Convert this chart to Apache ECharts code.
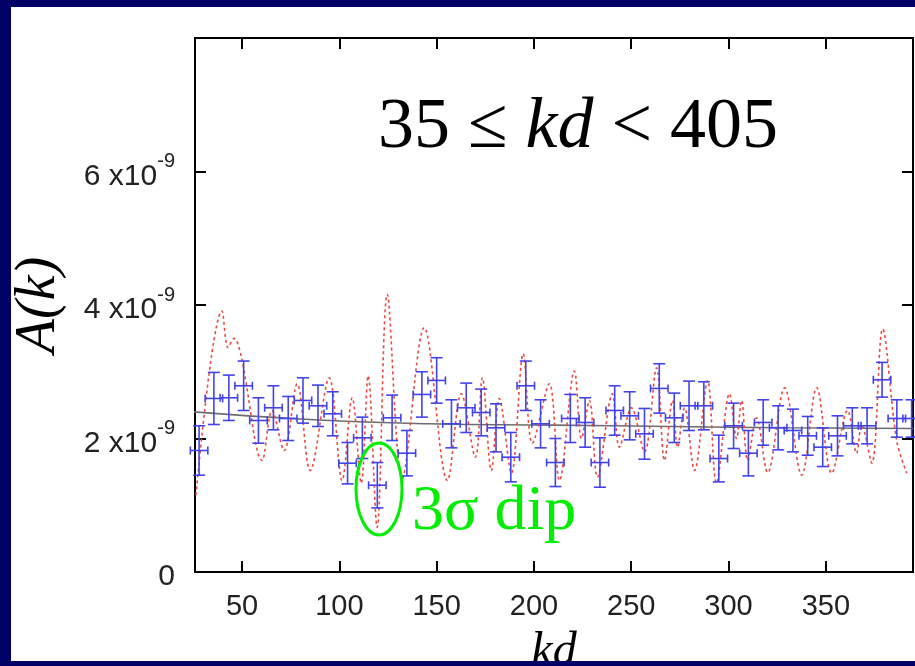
<!DOCTYPE html>
<html>
<head>
<meta charset="utf-8">
<script src="https://cdn.jsdelivr.net/npm/echarts@6/dist/echarts.min.js"></script>
<style>
  html, body { margin: 0; padding: 0; background: #000066; }
  #chart { width: 915px; height: 666px; }
</style>
</head>
<body>
<div id="chart"></div>
<script>
// binned points (A in units of 1e-9)
var kdBins = [27.9, 35.5, 43.2, 50.8, 58.4, 66.1, 73.7, 81.3, 89.0, 96.6,
  104.2, 111.8, 119.5, 127.1, 134.7, 142.4, 150.0, 157.6, 165.2, 172.9,
  180.5, 188.1, 195.8, 203.4, 211.0, 218.7, 226.3, 233.9, 241.5, 249.2,
  256.8, 264.4, 272.1, 279.7, 287.3, 295.0, 302.6, 310.2, 317.8, 325.5,
  333.1, 340.7, 348.4, 356.0, 363.6, 371.2, 378.9, 386.5, 394.1];
var ampBins = [1.82, 2.60, 2.61, 2.79, 2.27, 2.46, 2.30, 2.57, 2.49, 2.37,
  1.63, 2.01, 1.30, 2.31, 1.78, 2.66, 2.87, 2.22, 2.46, 2.39,
  2.16, 1.72, 2.79, 2.22, 1.64, 2.30, 2.24, 1.64, 2.42, 2.34,
  2.07, 2.75, 2.31, 2.49, 2.49, 1.70, 2.19, 1.78, 2.24, 2.16,
  2.12, 2.04, 1.87, 2.04, 2.19, 2.19, 2.88, 2.30, 2.30];
var ampErr = [0.37, 0.39, 0.34, 0.37, 0.34, 0.33, 0.33, 0.34, 0.31, 0.33,
  0.31, 0.31, 0.34, 0.34, 0.34, 0.34, 0.34, 0.36, 0.37, 0.35,
  0.36, 0.37, 0.37, 0.36, 0.36, 0.36, 0.37, 0.37, 0.37, 0.36,
  0.38, 0.37, 0.37, 0.37, 0.36, 0.35, 0.34, 0.34, 0.34, 0.33,
  0.32, 0.29, 0.29, 0.30, 0.27, 0.27, 0.26, 0.28, 0.28];
var kdHalfWidth = 4.5;

// unbinned (red dotted) curve
var kdFine = [26.3, 39.7, 42.8, 45.9, 49.5, 60.3, 65.4, 71.6, 78.3, 85.0,
  94.8, 101.4, 106.6, 111.2, 114.8, 119.4, 124.6, 132.3, 143.6, 155.5,
  162.7, 169.9, 173.5, 178.1, 182.2, 188.4, 194.5, 199.2, 207.9, 213.1,
  220.8, 224.4, 228.5, 232.6, 240.3, 243.9, 250.1, 256.8, 263.0, 267.1,
  271.2, 273.8, 277.4, 282.5, 289.2, 293.8, 300.5, 304.1, 306.7, 309.8,
  314.4, 320.1, 328.8, 337.6, 345.3, 353.0, 361.2, 365.8, 368.4, 373.6,
  379.2, 386.4, 391.6];
var ampFine = [1.15, 3.91, 3.36, 3.50, 3.24, 1.67, 2.42, 1.82, 2.82, 1.52,
  2.91, 1.37, 2.61, 1.33, 2.94, 0.67, 4.16, 1.40, 3.66, 1.37,
  2.67, 1.72, 2.91, 1.52, 2.60, 1.48, 3.27, 1.93, 2.82, 1.37,
  3.01, 2.00, 2.57, 1.42, 2.67, 1.87, 2.46, 1.80, 3.06, 1.67,
  2.57, 1.87, 2.46, 1.52, 2.87, 1.33, 2.67, 2.00, 2.57, 1.67,
  2.31, 1.49, 2.76, 1.45, 2.76, 1.48, 2.42, 1.78, 2.20, 1.63,
  3.64, 1.97, 1.48];

// fit curve
var kdFit = [25, 87, 146, 210, 270, 331, 395];
var ampFit = [2.40, 2.28, 2.22, 2.20, 2.18, 2.16, 2.15];

var xTicks = [50, 100, 150, 200, 250, 300, 350];

var dom = document.getElementById('chart');
var myChart = echarts.init(dom, null, { renderer: 'canvas' });

var barData = [];
for (var i = 0; i < kdBins.length; i++) {
  barData.push([kdBins[i], ampBins[i], kdHalfWidth, ampErr[i]]);
}
var fineData = kdFine.map(function (k, i) { return [k, ampFine[i]]; });
var fitData = kdFit.map(function (k, i) { return [k, ampFit[i]]; });

function renderBar(params, api) {
  var x = api.value(0), y = api.value(1), ex = api.value(2), ey = api.value(3);
  var c = api.coord([x, y]);
  var t = api.coord([x, y + ey]);
  var b = api.coord([x, y - ey]);
  var l = api.coord([x - ex, y]);
  var r = api.coord([x + ex, y]);
  var cw = 6, ch = 4;
  var st = { stroke: '#4343ee', lineWidth: 1.6, fill: null };
  function seg(x1, y1, x2, y2) {
    return { type: 'line', shape: { x1: x1, y1: y1, x2: x2, y2: y2 }, style: st };
  }
  return {
    type: 'group',
    children: [
      seg(t[0], t[1], b[0], b[1]),
      seg(t[0] - cw, t[1], t[0] + cw, t[1]),
      seg(b[0] - cw, b[1], b[0] + cw, b[1]),
      seg(l[0], c[1], r[0], c[1]),
      seg(l[0], c[1] - ch, l[0], c[1] + ch),
      seg(r[0], c[1] - ch, r[0], c[1] + ch)
    ]
  };
}

var sans = 'Liberation Sans, Arial, sans-serif';
var serif = 'Liberation Serif, Times New Roman, serif';

var frameLine = { show: true, onZero: false, lineStyle: { color: '#000', width: 2 } };
var tickIn = { show: true, inside: true, length: 11, lineStyle: { color: '#000', width: 2 } };

var option = {
  backgroundColor: '#ffffff',
  animation: false,
  grid: { left: 195, right: 2, top: 38, bottom: 94, containLabel: false, outerBoundsMode: 'none' },
  xAxis: [{
    type: 'value', min: 25.8, max: 394.8, position: 'bottom',
    axisLine: frameLine,
    axisTick: Object.assign({ customValues: xTicks }, tickIn),
    axisLabel: { customValues: xTicks, margin: 20, fontSize: 29, color: '#222', fontFamily: sans },
    splitLine: { show: false },
    name: 'kd', nameLocation: 'middle', nameGap: 56,
    nameTextStyle: { fontFamily: serif, fontStyle: 'italic', fontSize: 48, color: '#000' }
  }, {
    type: 'value', min: 25.8, max: 394.8, position: 'top',
    axisLine: frameLine,
    axisTick: Object.assign({ customValues: xTicks }, tickIn),
    axisLabel: { show: false },
    splitLine: { show: false }
  }],
  yAxis: [{
    type: 'value', min: 0, max: 8, interval: 2, position: 'left',
    axisLine: frameLine,
    axisTick: tickIn,
    axisLabel: {
      margin: 20, color: '#222', fontFamily: sans,
      formatter: function (v) {
        if (v === 0) return '{n|0}';
        if (v >= 8) return '';
        return '{n|' + v + ' x10}{s|-9}';
      },
      rich: {
        n: { fontSize: 30, fontFamily: sans, color: '#222', lineHeight: 40, verticalAlign: 'bottom' },
        s: { fontSize: 20, fontFamily: sans, color: '#222', lineHeight: 40, verticalAlign: 'top' }
      }
    },
    splitLine: { show: false },
    name: 'A(k)', nameLocation: 'middle', nameGap: 128, nameRotate: 90,
    nameTextStyle: { fontFamily: serif, fontStyle: 'italic', fontSize: 56, color: '#000' }
  }, {
    type: 'value', min: 0, max: 8, interval: 2, position: 'right',
    axisLine: frameLine,
    axisTick: tickIn,
    axisLabel: { show: false },
    splitLine: { show: false }
  }],
  series: [{
    type: 'line', data: fitData, smooth: true, showSymbol: false, z: 1,
    lineStyle: { color: '#6e6e6e', width: 1.6 }
  }, {
    type: 'line', data: fineData, smooth: 0.35, showSymbol: false, z: 2,
    lineStyle: { color: '#ec4a40', width: 1.6, type: [3, 3] }
  }, {
    type: 'custom', data: barData, renderItem: renderBar, z: 3,
    encode: { x: 0, y: 1 }
  }],
  graphic: [{
    type: 'text', left: 378, top: 92, z: 10,
    style: {
      text: '{n|35 ≤ }{i|kd}{n| < 405}',
      rich: {
        n: { fontFamily: serif, fontSize: 72, fill: '#000' },
        i: { fontFamily: serif, fontSize: 72, fontStyle: 'italic', fill: '#000' }
      }
    }
  }, {
    type: 'ellipse', z: 10,
    shape: { cx: 379, cy: 489, rx: 23, ry: 46 },
    style: { fill: null, stroke: '#00ee00', lineWidth: 3 }
  }, {
    type: 'text', left: 412, top: 480, z: 10,
    style: { text: '3σ dip', font: '64px ' + serif, fill: '#00ee00' }
  }, {
    type: 'rect', left: 0, top: 0, z: 20, shape: { width: 915, height: 7 }, style: { fill: '#000066' }
  }, {
    type: 'rect', left: 0, top: 0, z: 20, shape: { width: 11, height: 666 }, style: { fill: '#000066' }
  }, {
    type: 'rect', left: 0, top: 661, z: 20, shape: { width: 915, height: 5 }, style: { fill: '#000066' }
  }]
};

myChart.setOption(option);
window.addEventListener('resize', myChart.resize);
</script>
</body>
</html>
